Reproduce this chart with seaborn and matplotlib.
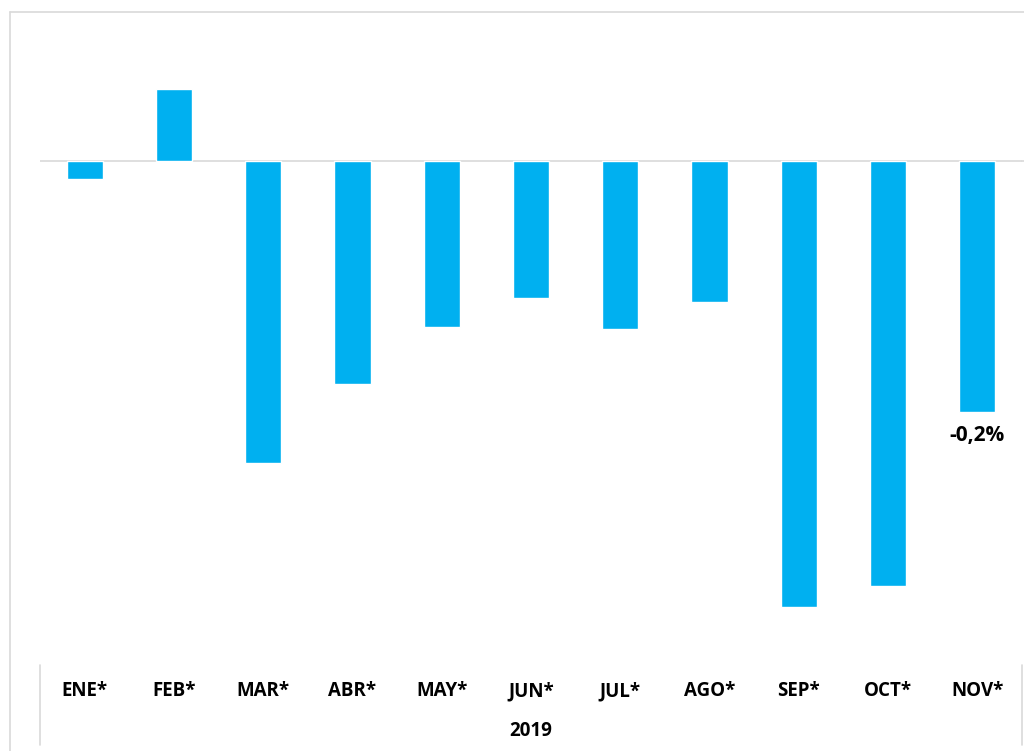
import matplotlib.pyplot as plt
import numpy as np
import pandas as pd
import seaborn as sns

sns.set_theme(style='white')
plt.rcParams['font.family'] = ['Open Sans', 'DejaVu Sans']

months = ['ENE*', 'FEB*', 'MAR*', 'ABR*', 'MAY*', 'JUN*', 'JUL*', 'AGO*', 'SEP*', 'OCT*', 'NOV*']
values = [-0.014, 0.057, -0.241, -0.178, -0.132, -0.109, -0.134, -0.112, -0.355, -0.339, -0.200]
year_label = '2019'
last_label = '-0,2%'

df = pd.DataFrame({'mes': months, 'valor': values})

W, H = 1024, 751
fig = plt.figure(figsize=(W / 100, H / 100), dpi=100)

# axes placed in pixel terms
left, right, top, bottom = 40, 1022, 20, 665
ax = fig.add_axes([left / W, 1 - bottom / H, (right - left) / W, (bottom - top) / H])

sns.barplot(df, x='mes', y='valor', color='#00B0F0', saturation=1, width=0.405, ax=ax)

scale = 1255  # px per unit
ax.set_ylim(-(bottom - 161) / scale, (161 - top) / scale)
ax.set_xlim(-0.5, len(months) - 0.5)

ax.axhline(0, color='#d9d9d9', lw=1.2, zorder=0)
for s in ax.spines.values():
    s.set_visible(False)
ax.set_yticks([])
ax.set_xticks([])
ax.set_xlabel('')
ax.set_ylabel('')

# zero line reaches the right edge of the figure
fig.add_artist(plt.Line2D([right / W, 1.0], [1 - 161 / H] * 2, color='#d9d9d9', lw=1.2))

# category labels under the plot
for i, m in enumerate(months):
    xf = (left + (i + 0.5) * (right - left) / len(months)) / W
    fig.text(xf, 1 - 691 / H, m, ha='center', va='center', fontsize=13.5, fontweight='bold', color='black')
fig.text((left + (right - left) / 2) / W, 1 - 731 / H, year_label, ha='center', va='center',
         fontsize=13.5, fontweight='bold', color='black')

# value label on last bar
ax.annotate(last_label, (len(months) - 1, values[-1]), textcoords='offset pixels', xytext=(0, -24),
            ha='center', va='center', fontsize=15, fontweight='bold', color='black')

# separators in the category area
for xp in [left, 1022]:
    fig.add_artist(plt.Line2D([xp / W] * 2, [1 - 665 / H, 1 - 745 / H], color='#d9d9d9', lw=1.2))

# outer frame
fig.add_artist(plt.Line2D([10 / W, 1.0], [1 - 12 / H] * 2, color='#d9d9d9', lw=1.2))
fig.add_artist(plt.Line2D([10 / W] * 2, [1 - 12 / H, 0], color='#d9d9d9', lw=1.2))

fig.savefig('out.png', dpi=100)
